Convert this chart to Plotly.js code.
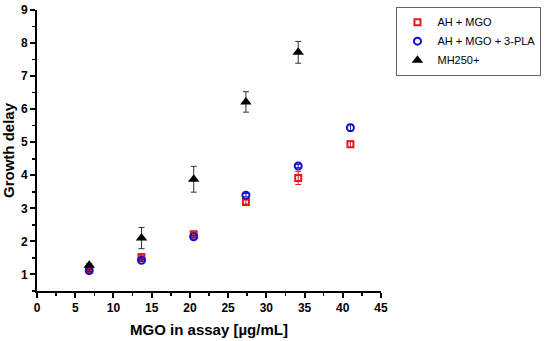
<!DOCTYPE html>
<html><head><meta charset="utf-8">
<script src="https://cdn.plot.ly/plotly-3.0.1.min.js"></script>
<style>body{margin:0}#c{width:550px;height:341px}</style>
</head><body><div id="c"></div>
<script>
const xAll = [6.83, 13.67, 20.5, 27.33, 34.17, 41];
const xMH = [6.83, 13.67, 20.5, 27.33, 34.17];
const ahMgo = [1.15, 1.53, 2.22, 3.19, 3.92, 4.94];
const ahMgoErr = [0.03, 0.05, 0.04, 0.06, 0.2, 0.1];
const ahMgoPla = [1.12, 1.43, 2.14, 3.40, 4.28, 5.44];
const ahMgoPlaErr = [0.03, 0.04, 0.04, 0.05, 0.05, 0.1];
const mh = [1.28, 2.10, 3.88, 6.22, 7.72];
const mhErr = [0.05, 0.32, 0.39, 0.31, 0.33];
const names = ["AH + MGO", "AH + MGO + 3-PLA", "MH250+"];

const F = 'Liberation Sans, Arial, sans-serif';
const traces = [
  {x: xAll, y: ahMgo, name: names[0], mode: 'markers', type: 'scatter',
   marker: {symbol: 'square-open', size: 6, color: '#e41a1c', line: {width: 2, color: '#e41a1c'}},
   error_y: {type: 'data', array: ahMgoErr, visible: true, color: '#e41a1c', thickness: 1, width: 3}},
  {x: xAll, y: ahMgoPla, name: names[1], mode: 'markers', type: 'scatter',
   marker: {symbol: 'circle-open', size: 7, color: '#1010c4', line: {width: 2, color: '#1010c4'}},
   error_y: {type: 'data', array: ahMgoPlaErr, visible: true, color: '#1010c4', thickness: 1, width: 3}},
  {x: xMH, y: mh, name: names[2], mode: 'markers', type: 'scatter',
   marker: {symbol: 'triangle-up', size: 10, color: '#000'},
   error_y: {type: 'data', array: mhErr, visible: true, color: '#333', thickness: 1, width: 3}}
];

const layout = {
  width: 550, height: 341,
  margin: {l: 37, r: 169, t: 7, b: 50},
  paper_bgcolor: '#fff', plot_bgcolor: '#fff',
  font: {family: F, color: '#000'},
  showlegend: true,
  legend: {x: 1.045, y: 1.012, xanchor: 'left', yanchor: 'top',
    bordercolor: '#666', borderwidth: 1, bgcolor: '#fff',
    font: {size: 11, family: F},
    tracegroupgap: 0, itemwidth: 30},
  xaxis: {range: [0, 45], dtick: 5, tick0: 0, showgrid: false, zeroline: false,
    showline: true, linecolor: '#000', linewidth: 2, ticks: 'outside', ticklen: 5, tickwidth: 2, tickcolor: '#000',
    minor: {dtick: 2.5, ticks: 'outside', ticklen: 3, tickwidth: 1.5, tickcolor: '#000', showgrid: false},
    tickfont: {size: 12, family: F, weight: 700},
    title: {text: 'MGO in assay [µg/mL]', font: {size: 15, family: F, weight: 700}, standoff: 10}},
  yaxis: {range: [0.5, 9], dtick: 1, tick0: 0, showgrid: false, zeroline: false,
    showline: true, linecolor: '#000', linewidth: 2, ticks: 'outside', ticklen: 5, tickwidth: 2, tickcolor: '#000',
    minor: {dtick: 0.5, ticks: 'outside', ticklen: 3, tickwidth: 1.5, tickcolor: '#000', showgrid: false},
    tickfont: {size: 12, family: F, weight: 700},
    title: {text: 'Growth delay', font: {size: 15, family: F, weight: 700}, standoff: 6}}
};
Plotly.newPlot('c', traces, layout, {displayModeBar: false, staticPlot: true});
</script></body></html>
